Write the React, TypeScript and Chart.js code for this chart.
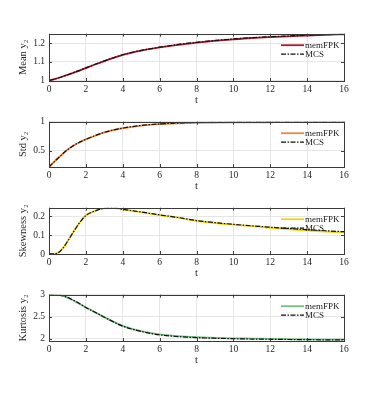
import React, { useEffect, useRef } from "react";
import { Chart, registerables } from "chart.js";

Chart.register(...registerables);

const tValues = [0, 0.25, 0.5, 0.75, 1, 1.25, 1.5, 1.75, 2, 2.5, 3, 3.5, 4, 5, 6, 7, 8, 9, 10, 11, 12, 13, 14, 15, 16];

const meanFPK = [1.0, 1.007, 1.014, 1.022, 1.031, 1.039, 1.048, 1.057, 1.067, 1.086, 1.104, 1.121, 1.137, 1.16, 1.177, 1.191, 1.202, 1.212, 1.22, 1.227, 1.232, 1.236, 1.24, 1.244, 1.247];
const meanMCS = [1.0, 1.007, 1.014, 1.022, 1.031, 1.04, 1.049, 1.058, 1.068, 1.087, 1.105, 1.122, 1.138, 1.161, 1.178, 1.193, 1.204, 1.214, 1.222, 1.229, 1.234, 1.238, 1.242, 1.245, 1.248];

const stdFPK = [0.226, 0.305, 0.38, 0.453, 0.52, 0.575, 0.622, 0.662, 0.697, 0.76, 0.816, 0.857, 0.888, 0.932, 0.957, 0.971, 0.98, 0.985, 0.988, 0.99, 0.991, 0.992, 0.992, 0.993, 0.993];
const stdMCS = [0.226, 0.305, 0.38, 0.453, 0.52, 0.576, 0.623, 0.664, 0.699, 0.762, 0.818, 0.86, 0.891, 0.936, 0.962, 0.977, 0.987, 0.992, 0.995, 0.997, 0.998, 0.998, 0.999, 0.999, 0.999];

const skewFPK = [0, 0.001, 0.007, 0.03, 0.066, 0.105, 0.143, 0.177, 0.204, 0.228, 0.241, 0.243, 0.236, 0.221, 0.206, 0.192, 0.176, 0.164, 0.155, 0.147, 0.139, 0.131, 0.125, 0.119, 0.115];
const skewMCS = [0, 0.001, 0.007, 0.03, 0.066, 0.105, 0.143, 0.177, 0.204, 0.228, 0.242, 0.244, 0.237, 0.222, 0.207, 0.193, 0.177, 0.166, 0.157, 0.149, 0.142, 0.135, 0.129, 0.123, 0.118];

const kurtFPK = [3.0, 2.998, 2.992, 2.972, 2.935, 2.885, 2.83, 2.77, 2.71, 2.6, 2.49, 2.385, 2.29, 2.17, 2.095, 2.055, 2.032, 2.018, 2.007, 2.0, 1.993, 1.987, 1.982, 1.978, 1.975];
const kurtMCS = [3.0, 3.0, 2.995, 2.975, 2.94, 2.89, 2.833, 2.772, 2.71, 2.598, 2.487, 2.38, 2.283, 2.163, 2.086, 2.045, 2.022, 2.008, 1.998, 1.99, 1.984, 1.979, 1.975, 1.972, 1.97];

const xTicks = [0, 2, 4, 6, 8, 10, 12, 14, 16];
const meanTicks = [1, 1.1, 1.2];
const stdTicks = [0.5, 1];
const skewTicks = [0, 0.1, 0.2];
const kurtTicks = [2, 2.5, 3];

const seriesNames = ["memFPK", "MCS"];

type Panel = {
  title: string;
  fpk: number[];
  mcs: number[];
  ticks: number[];
  min: number;
  max: number;
  color: string;
  top: number;
  bottom: number;
};

const panels: Panel[] = [
  { title: "Mean y\u2082", fpk: meanFPK, mcs: meanMCS, ticks: meanTicks, min: 0.998, max: 1.25, color: "#b0172f", top: 29, bottom: 81 },
  { title: "Std y\u2082", fpk: stdFPK, mcs: stdMCS, ticks: stdTicks, min: 0.226, max: 1.0, color: "#f0883c", top: 117, bottom: 167 },
  { title: "Skewness y\u2082", fpk: skewFPK, mcs: skewMCS, ticks: skewTicks, min: 0, max: 0.245, color: "#f0d418", top: 203, bottom: 254 },
  { title: "Kurtosis y\u2082", fpk: kurtFPK, mcs: kurtMCS, ticks: kurtTicks, min: 1.945, max: 3.0, color: "#74c080", top: 290, bottom: 341 },
];

const FONT = "'Liberation Serif', 'Times New Roman', serif";
const PAD_TOP = 5;
const XH = 30;

const frameAndLegend = {
  id: "frameAndLegend",
  afterDraw(chart: any, _args: any, opts: any) {
    const { ctx, chartArea } = chart;
    const { left, right, top, bottom } = chartArea;
    ctx.save();
    ctx.strokeStyle = "#404040";
    ctx.lineWidth = 1;
    const xs = chart.scales.x;
    const ys = chart.scales.y;
    ctx.beginPath();
    xTicks.forEach((v) => {
      const px = Math.round(xs.getPixelForValue(v)) + 0.5;
      ctx.moveTo(px, bottom);
      ctx.lineTo(px, bottom - 3);
      ctx.moveTo(px, top);
      ctx.lineTo(px, top + 3);
    });
    (opts.yTicks as number[]).forEach((v) => {
      const py = Math.round(ys.getPixelForValue(v)) + 0.5;
      ctx.moveTo(left, py);
      ctx.lineTo(left + 3, py);
      ctx.moveTo(right, py);
      ctx.lineTo(right - 3, py);
    });
    ctx.stroke();
    ctx.strokeStyle = "#3a3a3a";
    ctx.strokeRect(Math.round(left) + 0.5, Math.round(top) + 0.5, Math.round(right - left), Math.round(bottom - top));
    const lx0 = right - 63;
    const lx1 = right - 40;
    const rows = [top + 11.5, top + 20.5];
    chart.data.datasets.forEach((ds: any, i: number) => {
      const y = rows[i];
      ctx.beginPath();
      ctx.strokeStyle = ds.borderColor;
      ctx.lineWidth = ds.borderWidth;
      ctx.setLineDash(ds.borderDash || []);
      ctx.moveTo(lx0, y);
      ctx.lineTo(lx1, y);
      ctx.stroke();
      ctx.setLineDash([]);
      ctx.fillStyle = "#222";
      ctx.font = `9px ${FONT}`;
      ctx.textAlign = "left";
      ctx.textBaseline = "middle";
      ctx.fillText(ds.label, lx1 + 1, y);
    });
    ctx.restore();
  },
};

function PanelChart({ p }: { p: Panel }) {
  const ref = useRef<HTMLCanvasElement>(null);
  useEffect(() => {
    if (!ref.current) return;
    const data = {
      datasets: [
        {
          label: seriesNames[0],
          data: tValues.map((t, i) => ({ x: t, y: p.fpk[i] })),
          borderColor: p.color,
          borderWidth: 1.8,
          pointRadius: 0,
          order: 1,
          cubicInterpolationMode: "monotone" as const,
        },
        {
          label: seriesNames[1],
          data: tValues.map((t, i) => ({ x: t, y: p.mcs[i] })),
          borderColor: "#111111",
          borderWidth: 1.2,
          borderDash: [5, 1.5, 1.5, 1.5],
          pointRadius: 0,
          order: 0,
          cubicInterpolationMode: "monotone" as const,
        },
      ],
    };
    const chart = new Chart(ref.current, {
      type: "line",
      data,
      plugins: [frameAndLegend],
      options: {
        animation: false,
        responsive: false,
        devicePixelRatio: 1,
        layout: { padding: { top: PAD_TOP, right: 36, left: 0, bottom: 0 } },
        plugins: {
          legend: { display: false },
          tooltip: { enabled: false },
          frameAndLegend: { yTicks: p.ticks },
        } as any,
        scales: {
          x: {
            type: "linear",
            min: 0,
            max: 16,
            afterBuildTicks: (s: any) => {
              s.ticks = xTicks.map((v) => ({ value: v }));
            },
            afterFit: (s: any) => {
              s.height = XH;
            },
            grid: { color: "#e6e6e6", drawTicks: false },
            border: { display: false },
            ticks: { padding: 3, color: "#262626", font: { family: FONT, size: 9.5 }, maxRotation: 0 },
            title: { display: true, text: "t", color: "#262626", font: { family: FONT, size: 10.5 }, padding: { top: 0, bottom: 4 } },
          },
          y: {
            type: "linear",
            min: p.min,
            max: p.max,
            afterBuildTicks: (s: any) => {
              s.ticks = p.ticks.map((v) => ({ value: v }));
            },
            afterFit: (s: any) => {
              s.width = 49;
            },
            grid: { color: "#e6e6e6", drawTicks: false },
            border: { display: false },
            ticks: {
              padding: 4,
              color: "#262626",
              font: { family: FONT, size: 9.5 },
              callback: (v: any) => String(Math.round(Number(v) * 100) / 100),
            },
            title: { display: true, text: p.title, color: "#262626", font: { family: FONT, size: 10.5 }, padding: { top: 17, bottom: 0 } },
          },
        },
      } as any,
    });
    return () => chart.destroy();
  }, [p]);
  const h = PAD_TOP + (p.bottom - p.top) + XH;
  return (
    <canvas
      ref={ref}
      width={380}
      height={h}
      style={{ position: "absolute", left: 0, top: p.top - PAD_TOP, width: 380, height: h }}
    />
  );
}

export default function App() {
  return (
    <div style={{ position: "absolute", left: 0, top: 0, width: 380, height: 395, background: "#fff" }}>
      {panels.map((p, i) => (
        <PanelChart key={i} p={p} />
      ))}
    </div>
  );
}
